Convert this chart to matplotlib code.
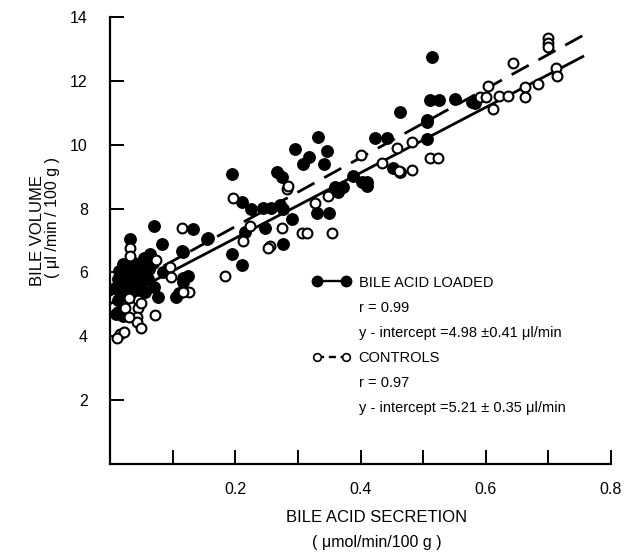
import numpy as np
import matplotlib
matplotlib.use('Agg')
import matplotlib.pyplot as plt
from matplotlib.lines import Line2D

#  ---------------------------------------------------------  #
#  Data                                                       #
#  ---------------------------------------------------------  #
# bile acid loaded (filled dots)
loaded_x = [0.032, 0.070, 0.132, 0.083, 0.115, 0.155, 0.064, 0.116, 0.077, 0.105,
            0.110, 0.013, 0.020, 0.010, 0.085, 0.059, 0.055,
            0.008, 0.012, 0.015, 0.018, 0.022, 0.025, 0.028, 0.030, 0.033, 0.036,
            0.040, 0.043, 0.046, 0.050, 0.053, 0.056, 0.060, 0.063, 0.045, 0.020,
            0.038, 0.070, 0.068, 0.012,
            0.195, 0.211, 0.225, 0.244, 0.257, 0.272, 0.276, 0.290, 0.267, 0.275,
            0.296, 0.308, 0.317, 0.332, 0.342, 0.346, 0.330, 0.350, 0.360, 0.372,
            0.364, 0.388, 0.403, 0.410, 0.410, 0.452, 0.463, 0.248, 0.216, 0.157,
            0.276, 0.195, 0.211, 0.117, 0.117, 0.125,
            0.423, 0.442, 0.514, 0.511, 0.526, 0.551, 0.578, 0.583, 0.463, 0.506,
            0.506, 0.506]
loaded_y = [7.05, 7.45, 7.37, 6.90, 6.68, 7.05, 6.58, 5.83, 5.23, 5.24,
            5.35, 4.76, 4.65, 4.70, 6.00, 6.24, 6.45,
            5.50, 5.80, 6.05, 5.35, 5.60, 5.90, 6.20, 5.45, 5.75, 6.00,
            5.55, 5.85, 6.15, 5.65, 5.95, 5.40, 5.80, 6.10, 5.30, 6.25,
            6.30, 5.55, 6.30, 5.15,
            9.09, 8.20, 8.00, 8.02, 8.02, 8.10, 8.00, 7.68, 9.15, 9.00,
            9.87, 9.40, 9.60, 10.25, 9.40, 9.79, 7.87, 7.87, 8.68, 8.68,
            8.53, 9.03, 8.84, 8.84, 8.70, 9.28, 9.15, 7.40, 7.27, 7.08,
            6.90, 6.58, 6.24, 6.65, 5.70, 5.90,
            10.20, 10.20, 12.76, 11.41, 11.41, 11.44, 11.35, 11.30, 11.03, 10.78,
            10.70, 10.19]

# controls (open circles)
control_x = [0.032, 0.032, 0.115, 0.073, 0.096, 0.097, 0.126, 0.117, 0.072, 0.045,
             0.045, 0.043, 0.043, 0.050, 0.024, 0.030, 0.016, 0.022, 0.011, 0.184,
             0.030, 0.050,
             0.197, 0.282, 0.284, 0.224, 0.213, 0.275, 0.256, 0.252, 0.307, 0.315,
             0.355, 0.328, 0.348, 0.400, 0.434, 0.458, 0.482, 0.511, 0.524, 0.462,
             0.482,
             0.644, 0.700, 0.700, 0.700, 0.604, 0.591, 0.600, 0.621, 0.636, 0.612,
             0.663, 0.663, 0.684, 0.712, 0.714]
control_y = [6.77, 6.50, 7.40, 6.40, 6.17, 5.86, 5.39, 5.39, 4.67, 5.14,
             4.89, 4.60, 4.45, 4.26, 4.90, 4.60, 4.08, 4.12, 3.95, 5.89,
             5.20, 5.05,
             8.34, 8.62, 8.72, 7.46, 6.99, 7.40, 6.83, 6.75, 7.24, 7.24,
             7.24, 8.18, 8.40, 9.69, 9.43, 9.90, 10.10, 9.59, 9.59, 9.18,
             9.22,
             12.57, 13.35, 13.20, 13.05, 11.85, 11.50, 11.50, 11.54, 11.54, 11.13,
             11.80, 11.50, 11.91, 12.40, 12.16]

# regression lines (end points)
fit_x = [0.0, 0.755]
loaded_fit = [5.02, 12.76]
control_fit = [5.28, 13.42]

x_ticks = [0.1, 0.2, 0.3, 0.4, 0.5, 0.6, 0.7, 0.8]
x_labels = ['', '0.2', '', '0.4', '', '0.6', '', '0.8']
y_ticks = [2, 4, 6, 8, 10, 12, 14]

#  ---------------------------------------------------------  #
#  Plot                                                       #
#  ---------------------------------------------------------  #
plt.rcParams['font.family'] = ['Liberation Sans', 'DejaVu Sans']
W, H = 633, 554
fig = plt.figure(figsize=(W / 100., H / 100.), dpi=100)
ax = fig.add_axes([110. / W, 1 - 464. / H, 501. / W, 447. / H])

ax.plot(fit_x, loaded_fit, 'k-', lw=2.0, zorder=2)
ax.plot(fit_x, control_fit, 'k-', lw=2.0, dashes=(7, 4), zorder=2)
ax.scatter(loaded_x, loaded_y, s=68, c='k', edgecolors='k', zorder=3)
ax.scatter(control_x, control_y, s=50, facecolors='white', edgecolors='k',
           linewidths=1.5, zorder=3)

ax.set_xlim(0, 0.8)
ax.set_ylim(0, 14)
ax.set_xticks(x_ticks)
ax.set_xticklabels(x_labels)
ax.set_yticks(y_ticks)
for s in ['top', 'right']:
    ax.spines[s].set_visible(False)
for s in ['left', 'bottom']:
    ax.spines[s].set_linewidth(1.6)
ax.tick_params(axis='both', direction='in', length=10, width=1.4, labelsize=11.5)
ax.tick_params(axis='y', pad=16)
ax.tick_params(axis='x', pad=13)

# axis titles
fig.text(37. / W, 1 - 231. / H, 'BILE VOLUME', rotation=90, ha='center', va='center', fontsize=12)
fig.text(53. / W, 1 - 218. / H, u'( \u03bcl /min / 100 g )', rotation=90, ha='center', va='center', fontsize=11.5)
fig.text(377. / W, 1 - 517. / H, 'BILE ACID SECRETION', ha='center', va='center', fontsize=12)
fig.text(377. / W, 1 - 542. / H, u'( \u03bcmol/min/100 g )', ha='center', va='center', fontsize=11.5)

# legend
h_loaded = Line2D([], [], color='k', lw=1.7, marker='o', ms=7.5, mfc='k', mec='k')
h_control = Line2D([], [], color='k', lw=1.7, ls=(0, (3, 2)), marker='o', ms=5.5,
                   mfc='white', mec='k', mew=1.2)
blank = Line2D([], [], color='none')
leg = ax.legend([h_loaded, blank, blank, h_control, blank, blank],
                ['BILE ACID LOADED', 'r = 0.99',
                 u'y - intercept =4.98 \u00b10.41 \u03bcl/min',
                 'CONTROLS', 'r = 0.97',
                 u'y - intercept =5.21 \u00b1 0.35 \u03bcl/min'],
                loc='upper left', bbox_to_anchor=(0.39, 0.438), frameon=False,
                numpoints=2, handlelength=2.6, handletextpad=0.55,
                labelspacing=0.76, borderpad=0, fontsize=10.5)

fig.savefig('out.png', dpi=100)
